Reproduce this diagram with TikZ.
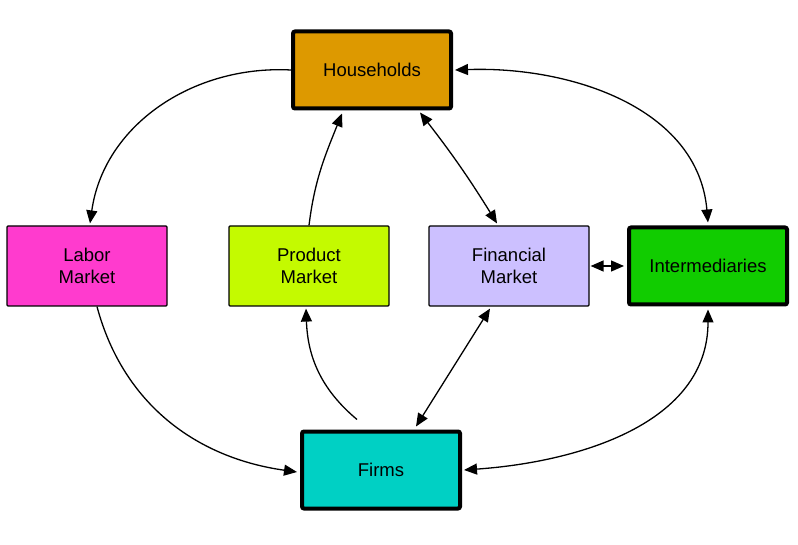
\documentclass[tikz,border=0pt]{standalone}
\usepackage{fontspec}
\setmainfont{Liberation Sans}
\usetikzlibrary{arrows.meta,calc}
\definecolor{hhc}{RGB}{221,153,0}
\definecolor{labc}{RGB}{255,59,206}
\definecolor{prodc}{RGB}{196,250,0}
\definecolor{finc}{RGB}{204,192,255}
\definecolor{intc}{RGB}{17,204,0}
\definecolor{firmc}{RGB}{0,208,196}
\begin{document}
\begin{tikzpicture}[x=1pt,y=1pt,
  box/.style={draw=black,line width=1.2pt,minimum width=160pt,minimum height=80pt,inner sep=0pt,align=center,
     font=\fontsize{18.5}{22}\selectfont,rounded corners=1pt},
  bigbox/.style={box,line width=4pt,minimum width=158pt,minimum height=77pt,rounded corners=2pt},
  conn/.style={line width=1.3pt,-{Triangle[length=13pt,width=11pt]}},
  dconn/.style={line width=1.3pt,{Triangle[length=13pt,width=11pt]}-{Triangle[length=13pt,width=11pt]}}]
\useasboundingbox (0,0) rectangle (798,544);
\node[bigbox,fill=hhc] (hh) at (372,474) {Households};
\node[box,fill=labc] (lab) at (87,278) {Labor\\Market};
\node[box,fill=prodc] (prod) at (309,278) {Product\\Market};
\node[box,fill=finc] (fin) at (509,278) {Financial\\Market};
\node[bigbox,fill=intc] (int) at (708,278) {Intermediaries};
\node[bigbox,fill=firmc] (firm) at (381,74) {Firms};
% connectors
\draw[conn] (hh.west) to[out=177,in=82] ($(lab.north)+(3,2)$);
\draw[conn] (prod.north) to[out=83,in=-112] ($(hh.south)+(-30,-3)$);
\draw[dconn] ($(hh.south)+(48,-2)$) to[bend left=3] ($(fin.north)+(-12,2)$);
\draw[dconn] ($(hh.east)+(2,0)$) to[out=2,in=95] ($(int.north)+(0,3)$);
\draw[dconn] ($(fin.east)+(1,0)$) -- ($(int.west)+(-3,0)$);
\draw[conn] ($(lab.south)+(10,0)$) to[out=-75,in=172] ($(firm.west)+(-3,-2)$);
\coordinate (fstart) at ($(firm.north)+(-24,10)$);
\draw[conn] (fstart) to[out=140,in=-88] ($(prod.south)+(-3,-2)$);
\draw[dconn] ($(fin.south)+(-19,-2)$) -- ($(firm.north)+(35,3)$);
\draw[dconn] ($(int.south)+(0,-3)$) to[out=-90,in=4] ($(firm.east)+(2,0)$);
\end{tikzpicture}
\end{document}
